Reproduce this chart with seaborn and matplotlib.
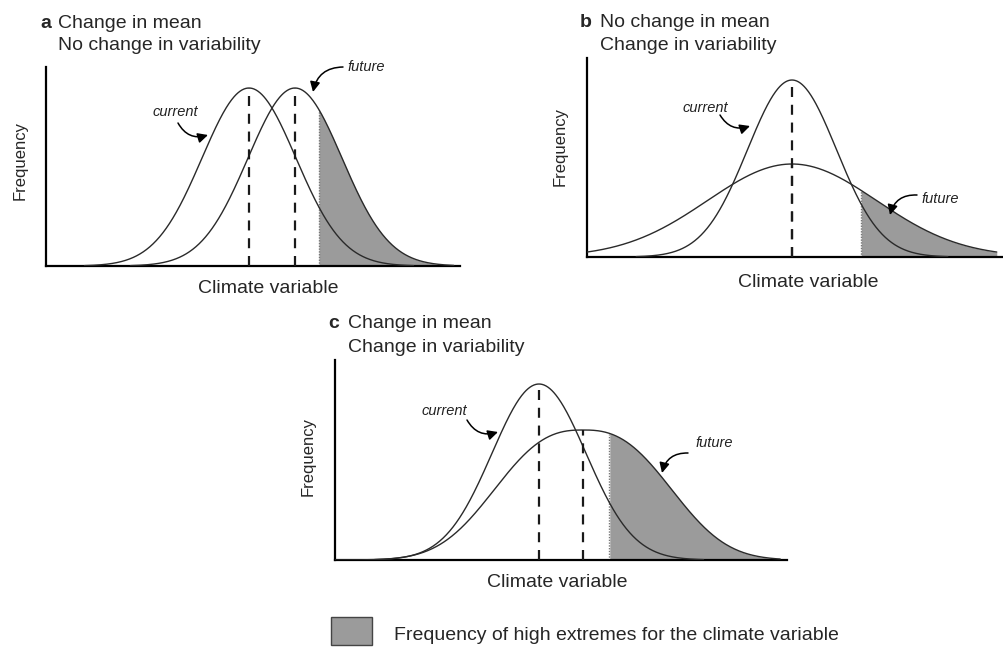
import numpy as np
import pandas as pd
import matplotlib
matplotlib.use("Agg")
import matplotlib.pyplot as plt
import seaborn as sns
from matplotlib.patches import Rectangle

# ---------------- data ----------------
panel_letters = ["a", "b", "c"]
title_line1 = ["Change in mean", "No change in mean", "Change in mean"]
title_line2 = ["No change in variability", "Change in variability", "Change in variability"]

current_mean = [20.3, 20.5, 20.4]
current_width = [4.7, 4.45, 4.7]
current_peak = [17.8, 17.7, 17.6]
current_shape = [2.0, 2.0, 2.0]

future_mean = [24.9, 20.5, 24.8]
future_width = [4.7, 8.46, 8.2]
future_peak = [17.8, 9.3, 13.0]
future_shape = [2.0, 2.0, 2.6]

extreme_threshold = [27.3, 27.4, 27.4]
x_max = [41.4, 41.6, 45.2]
y_max = [19.9, 19.9, 20.0]

x_label = "Climate variable"
y_label = "Frequency"
current_label = "current"
future_label = "future"
legend_label = "Frequency of high extremes for the climate variable"

# ---------------- style ----------------
sns.set_style("white")
plt.rcParams["font.family"] = ["Liberation Sans", "DejaVu Sans"]

W, H = 1004, 647
fig = plt.figure(figsize=(W / 100, H / 100), dpi=100)


def fx(px):
    return px / W


def fy(py):
    return 1 - py / H


# axes boxes in pixels: left, right, bottom, top
axes_px = [(46, 460, 266, 67), (587, 1003, 257, 58), (335, 787, 560, 360)]
title_px = [(40, 58, 28, 50), (580, 600, 27, 50), (328, 348, 328, 352)]
xlabel_px = [(268, 293), (808, 287), (557, 587)]
ylabel_px = [(20, 160), (560, 147), (308, 457)]
cur_arrow = [((178, 123), (208, 135), (153, 112)),
             ((720, 115), (750, 126), (683, 108)),
             ((467, 420), (498, 432), (422, 411))]
fut_arrow = [((343, 67), (313, 92), (348, 67)),
             ((917, 195), (890, 215), (922, 199)),
             ((688, 453), (662, 473), (695, 443))]

SHADE = "#9b9b9b"
NSD = 3.5


def curve(mean, width, peak, shape, xmax):
    lo = max(0.0, mean - NSD * width)
    hi = min(xmax * 0.985, mean + NSD * width)
    x = np.linspace(lo, hi, 500)
    y = peak * np.exp(-0.5 * np.abs((x - mean) / width) ** shape)
    return pd.DataFrame({"x": x, "y": y})


for i in range(3):
    l, r, b, t = axes_px[i]
    ax = fig.add_axes([fx(l), fy(b), (r - l) / W, (b - t) / H])
    ax.set_xlim(0, x_max[i])
    ax.set_ylim(0, y_max[i])

    cur = curve(current_mean[i], current_width[i], current_peak[i], current_shape[i], x_max[i])
    fut = curve(future_mean[i], future_width[i], future_peak[i], future_shape[i], x_max[i])

    # shaded high extremes under the future curve
    sel = fut[fut["x"] >= extreme_threshold[i]]
    ax.fill_between(sel["x"], 0, sel["y"], color=SHADE, lw=0, zorder=1)
    ax.plot([extreme_threshold[i]] * 2, [0, sel["y"].iloc[0]], color="#777777",
            lw=1.0, ls=(0, (1, 1)), zorder=2)

    sns.lineplot(data=cur, x="x", y="y", ax=ax, color="#2a2a2a", lw=1.0, zorder=3,
                 sort=False, estimator=None)
    sns.lineplot(data=fut, x="x", y="y", ax=ax, color="#2a2a2a", lw=1.0, zorder=3,
                 sort=False, estimator=None)

    # dashed mean lines
    ax.plot([current_mean[i]] * 2, [0, current_peak[i]], color="#1a1a1a", lw=1.6,
            ls=(0, (4.5, 3.5)), zorder=4)
    ax.plot([future_mean[i]] * 2, [0, future_peak[i]], color="#1a1a1a", lw=1.6,
            ls=(0, (4.5, 3.5)), zorder=4)

    ax.set_xticks([])
    ax.set_yticks([])
    ax.set_xlabel("")
    ax.set_ylabel("")
    ax.patch.set_alpha(0)
    for s in ["top", "right"]:
        ax.spines[s].set_visible(False)
    for s in ["left", "bottom"]:
        ax.spines[s].set_color("black")
        ax.spines[s].set_linewidth(1.6)

    # titles
    lx, tx, y1, y2 = title_px[i]
    fig.text(fx(lx), fy(y1), panel_letters[i], fontsize=14, fontweight="bold",
             va="baseline", ha="left")
    fig.text(fx(tx), fy(y1), title_line1[i], fontsize=14, va="baseline", ha="left")
    fig.text(fx(tx), fy(y2), title_line2[i], fontsize=14, va="baseline", ha="left")

    xx, xy = xlabel_px[i]
    fig.text(fx(xx), fy(xy), x_label, fontsize=14, ha="center", va="baseline")
    yx, yy = ylabel_px[i]
    fig.text(fx(yx), fy(yy), y_label, fontsize=12, rotation=90, ha="center", va="center")

    # annotations with curved arrows
    for (s, e, txt), lab in ((cur_arrow[i], current_label), (fut_arrow[i], future_label)):
        fig.text(fx(txt[0]), fy(txt[1]), lab, fontsize=10.5, style="italic",
                 ha="left", va="center", color="#222222")
        ax.annotate("", xy=(fx(e[0]), fy(e[1])), xytext=(fx(s[0]), fy(s[1])),
                    xycoords="figure fraction", textcoords="figure fraction",
                    arrowprops=dict(arrowstyle="-|>,head_length=0.6,head_width=0.3",
                                    connectionstyle="arc3,rad=0.4", lw=1.1,
                                    color="black", shrinkA=0, shrinkB=0))

# legend box
fig.add_artist(Rectangle((fx(331), fy(645)), 41 / W, 28 / H, transform=fig.transFigure,
                         facecolor=SHADE, edgecolor="#444444", lw=1.0))
fig.text(fx(394), fy(640), legend_label, fontsize=14, ha="left", va="baseline")

fig.savefig("out.png", dpi=100, facecolor="white")
